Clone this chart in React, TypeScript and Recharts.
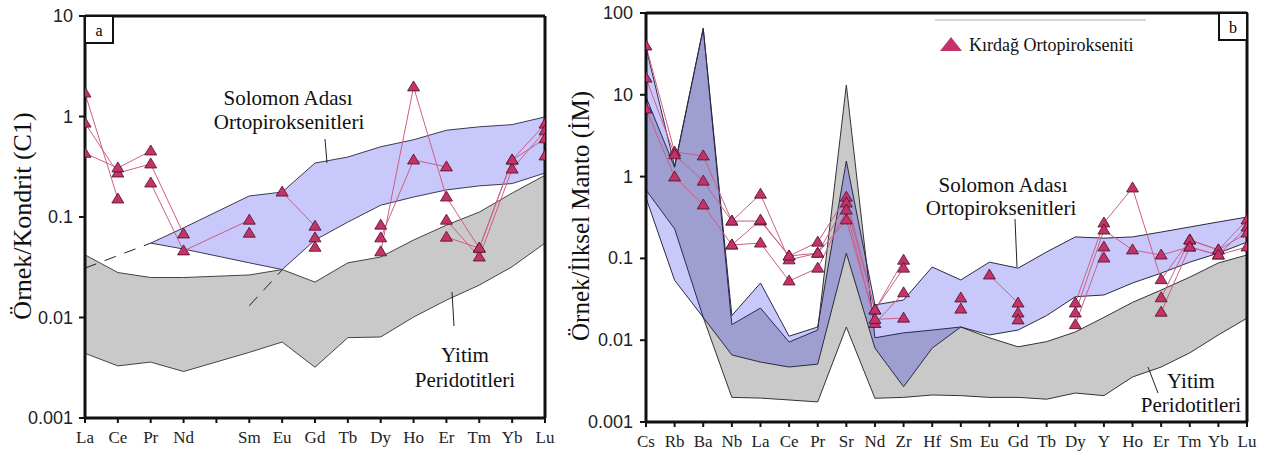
import React from 'react';
import { ComposedChart, Area, Line, XAxis, YAxis, ReferenceLine } from 'recharts';

// --- panel a: REE, kondrit (C1) normalised ---
const reeTicks = ['La', 'Ce', 'Pr', 'Nd', '', 'Sm', 'Eu', 'Gd', 'Tb', 'Dy', 'Ho', 'Er', 'Tm', 'Yb', 'Lu'];
const reeElements = ['La', 'Ce', 'Pr', 'Nd', 'Sm', 'Eu', 'Gd', 'Tb', 'Dy', 'Ho', 'Er', 'Tm', 'Yb', 'Lu'];

// Yitim peridotitleri envelope
const reeYitimLow = [0.0044, 0.0033, 0.0036, 0.0029, 0.0045, 0.0057, 0.0032, 0.0063, 0.0064, 0.0101, 0.0149, 0.021, 0.032, 0.055];
const reeYitimHigh = [0.042, 0.028, 0.025, 0.025, 0.0265, 0.03, 0.0225, 0.035, 0.04, 0.059, 0.083, 0.112, 0.173, 0.26];
// Solomon Adası ortopiroksenitleri envelope
const reeSolomonLow = [null, null, 0.055, 0.048, 0.035, 0.03, 0.059, 0.089, 0.131, 0.158, 0.186, 0.204, 0.215, 0.274];
const reeSolomonHigh = [null, null, 0.055, 0.078, 0.162, 0.177, 0.344, 0.395, 0.5, 0.587, 0.73, 0.79, 0.83, 0.99];
// dashed extensions
const reeDashLeft = [0.031, null, 0.055, null, null, null, null, null, null, null, null, null, null, null];
const reeDashMid = [null, null, null, null, 0.0131, 0.0297, null, null, null, null, null, null, null, null];

// Kırdağ samples
const reeS1 = [1.71, 0.151, null, null, 0.069, null, 0.062, null, 0.045, 1.97, 0.158, 0.049, 0.369, 0.84];
const reeS2 = [0.86, 0.274, 0.337, 0.0678, null, 0.177, 0.081, null, 0.062, 0.369, 0.315, null, null, 0.405];
const reeS3 = [0.43, 0.308, 0.454, null, null, null, 0.05, null, 0.083, null, 0.093, 0.04, 0.3, 0.72];
const reeS4 = [null, null, 0.218, 0.046, 0.093, null, null, null, null, null, 0.063, 0.049, 0.369, 0.6];

// --- panel b: ilksel manto normalised ---
const spiderElements = ['Cs', 'Rb', 'Ba', 'Nb', 'La', 'Ce', 'Pr', 'Sr', 'Nd', 'Zr', 'Hf', 'Sm', 'Eu', 'Gd', 'Tb', 'Dy', 'Y', 'Ho', 'Er', 'Tm', 'Yb', 'Lu'];

const spSolomonLow = [0.55, 0.054, 0.019, 0.0066, 0.0054, 0.0047, 0.0051, 0.116, 0.008, 0.0027, 0.008, 0.0145, 0.0116, 0.0133, 0.02, 0.034, 0.0357, 0.05, 0.066, 0.09, 0.116, 0.158];
const spSolomonHigh = [38, 1.35, 65, 0.02, 0.05, 0.0112, 0.0145, 1.55, 0.027, 0.031, 0.0785, 0.0545, 0.09, 0.076, 0.12, 0.183, 0.177, 0.183, 0.21, 0.242, 0.279, 0.32];
const spYitimLow = [0.685, 0.23, 0.019, 0.002, 0.00196, 0.00186, 0.00176, 0.0145, 0.00195, 0.002, 0.00214, 0.0021, 0.002, 0.002, 0.0019, 0.00226, 0.0021, 0.00355, 0.0047, 0.007, 0.0116, 0.0186];
const spYitimHigh = [9.4, 1.3, 65, 0.0155, 0.0247, 0.0095, 0.0133, 13.2, 0.0107, 0.0123, 0.0133, 0.0145, 0.0107, 0.0083, 0.0096, 0.0126, 0.019, 0.029, 0.041, 0.059, 0.088, 0.11];

const spS1 = [39.5, 2.0, 1.79, 0.286, 0.286, 0.107, 0.158, 0.56, 0.0234, 0.095, null, null, 0.0627, 0.0285, null, 0.0285, 0.271, 0.726, 0.055, 0.168, 0.127, 0.295];
const spS2 = [16, 1.85, 0.88, 0.286, 0.61, 0.096, 0.116, 0.475, 0.0234, 0.076, null, 0.0328, null, 0.0215, null, 0.0215, 0.222, 0.127, 0.11, 0.138, 0.11, 0.242];
const spS3 = [6.7, 0.99, 0.45, 0.146, 0.154, 0.053, 0.076, 0.39, 0.016, 0.038, null, 0.024, null, 0.0177, null, 0.0155, 0.138, null, 0.033, 0.168, 0.127, 0.204];
const spS4 = [null, null, null, 0.146, 0.294, 0.107, 0.116, 0.295, 0.018, 0.0186, null, null, null, null, null, null, 0.101, null, 0.022, 0.138, 0.11, 0.138];

const reeData = reeElements.map((el, i) => ({
    x: reeTicks.indexOf(el),
    yitim: [reeYitimLow[i], reeYitimHigh[i]],
    solomon: reeSolomonLow[i] == null ? null : [reeSolomonLow[i], reeSolomonHigh[i]],
    dashLeft: reeDashLeft[i],
    dashMid: reeDashMid[i],
    s1: reeS1[i], s2: reeS2[i], s3: reeS3[i], s4: reeS4[i],
}));

const spiderData = spiderElements.map((el, i) => ({
    x: i,
    yitim: [spYitimLow[i], spYitimHigh[i]],
    solomon: [spSolomonLow[i], spSolomonHigh[i]],
    s1: spS1[i], s2: spS2[i], s3: spS3[i], s4: spS4[i],
}));

const SERIF = '"Liberation Serif", "Times New Roman", serif';
const SANS = '"Liberation Sans", Arial, sans-serif';
const GRAY_FILL = '#c9c9c9';
const BLUE_FILL = '#0505e8'; // drawn with low opacity so the overlap darkens
const LINE_PINK = '#cc5f86';
const TRI_FILL = '#c4326a';

const Triangle = (props: any) => {
    const { cx, cy, value, index, dataKey } = props;
    const key = `${dataKey}-${index}`;
    if (cx == null || cy == null || value == null) return <g key={key} />;
    const pts = `${cx},${cy - 6} ${cx - 6},${cy + 4} ${cx + 6},${cy + 4}`;
    return <polygon key={key} points={pts} fill={TRI_FILL} stroke="#4a1028" strokeWidth={0.8} />;
};

// custom ticks so the font sizes stick
const YTick = ({ x, y, payload }: any) => (
    <text x={x} y={y} textAnchor="end" dominantBaseline="central" fontFamily={SANS} fontSize={18} fill="#222">
        {String(payload.value)}
    </text>
);

const makeXTick = (labels: string[]) => ({ x, y, payload }: any) => (
    <text x={x} y={y + 10} textAnchor="middle" dominantBaseline="central" fontFamily={SERIF} fontSize={17} fill="#222">
        {labels[payload.value]}
    </text>
);

const sampleKeys = ['s1', 's2', 's3', 's4'];

const Overlay = () => (
    <svg width={1262} height={456} style={{ position: 'absolute', left: 0, top: 0, pointerEvents: 'none' }}>
        {/* axis titles */}
        <text x={22} y={216} transform="rotate(-90 22 216)" textAnchor="middle" dominantBaseline="central"
            fontFamily={SERIF} fontSize={26} fill="#111">Örnek/Kondrit (C1)</text>
        <text x={580} y={216} transform="rotate(-90 580 216)" textAnchor="middle" dominantBaseline="central"
            fontFamily={SERIF} fontSize={25} fill="#111">Örnek/İlksel Manto (İM)</text>

        {/* panel letters */}
        <rect x={85} y={16} width={28} height={27} fill="#fff" stroke="#111" strokeWidth={2} />
        <text x={99} y={30} textAnchor="middle" dominantBaseline="central" fontFamily={SERIF} fontSize={16}>a</text>
        <rect x={1219} y={13} width={28} height={27} fill="#fff" stroke="#111" strokeWidth={2} />
        <text x={1233} y={27} textAnchor="middle" dominantBaseline="central" fontFamily={SERIF} fontSize={16}>b</text>

        {/* envelope names */}
        <g fontFamily={SERIF} fontSize={21} fill="#111" textAnchor="middle">
            <text x={288} y={105}>Solomon Adası</text>
            <text x={289} y={129}>Ortopiroksenitleri</text>
            <text x={465} y={362}>Yitim</text>
            <text x={465} y={387}>Peridotitleri</text>
            <text x={1003} y={192}>Solomon Adası</text>
            <text x={1001} y={215}>Ortopiroksenitleri</text>
            <text x={1191} y={388}>Yitim</text>
            <text x={1191} y={412}>Peridotitleri</text>
        </g>
        <g stroke="#222" strokeWidth={1}>
            <line x1={325} y1={139} x2={327} y2={163} />
            <line x1={452} y1={292} x2={454} y2={326} />
            <line x1={1015} y1={219} x2={1017} y2={267} />
            <line x1={1148} y1={367} x2={1158} y2={393} />
        </g>

        {/* legend */}
        <line x1={935} y1={20} x2={1146} y2={20} stroke="#c8c8c8" strokeWidth={1.5} />
        <polygon points="951,37 940,51 962,51" fill={TRI_FILL} />
        <text x={969} y={51} fontFamily={SERIF} fontSize={18} fill="#111">Kırdağ Ortopirokseniti</text>
    </svg>
);

export default function App() {
    return (
        <div style={{ position: 'absolute', left: 0, top: 0, width: 1262, height: 456, background: '#fff' }}>
            {/* a: REE */}
            <div style={{ position: 'absolute', left: 0, top: 0 }}>
                <ComposedChart width={560} height={456} data={reeData} margin={{ top: 16, right: 15, bottom: 8, left: 25 }}>
                    <XAxis type="number" dataKey="x" domain={[0, 14]} ticks={reeTicks.map((_, i) => i)}
                        interval={0} height={30} allowDataOverflow
                        axisLine={{ stroke: '#111', strokeWidth: 3 }} tickLine={{ stroke: '#111', strokeWidth: 2 }}
                        tickSize={5} tickMargin={4} tick={makeXTick(reeTicks)} />
                    <YAxis scale="log" domain={[0.001, 10]} ticks={[0.001, 0.01, 0.1, 1, 10]} width={60} allowDataOverflow
                        axisLine={{ stroke: '#111', strokeWidth: 3 }} tickLine={{ stroke: '#111', strokeWidth: 2 }}
                        tickSize={6} tickMargin={6} tick={<YTick />} />
                    <Area dataKey="yitim" stroke="#444" strokeWidth={1} fill={GRAY_FILL} fillOpacity={1} isAnimationActive={false} />
                    <Area dataKey="solomon" stroke="#3a3a55" strokeWidth={1} fill={BLUE_FILL} fillOpacity={0.22} isAnimationActive={false} />
                    <Line dataKey="dashLeft" stroke="#222" strokeWidth={1} strokeDasharray="12 9" dot={false} connectNulls isAnimationActive={false} />
                    <Line dataKey="dashMid" stroke="#222" strokeWidth={1} strokeDasharray="12 9" dot={false} connectNulls isAnimationActive={false} />
                    {sampleKeys.map(k => (
                        <Line key={k} dataKey={k} stroke={LINE_PINK} strokeWidth={1} dot={Triangle} activeDot={false} isAnimationActive={false} />
                    ))}
                    <ReferenceLine y={10} stroke="#111" strokeWidth={3} />
                    <ReferenceLine x={14} stroke="#111" strokeWidth={3} />
                </ComposedChart>
            </div>

            {/* b: spider */}
            <div style={{ position: 'absolute', left: 560, top: 0 }}>
                <ComposedChart width={702} height={456} data={spiderData} margin={{ top: 13, right: 15, bottom: 4, left: 26 }}>
                    <XAxis type="number" dataKey="x" domain={[0, 21]} ticks={spiderElements.map((_, i) => i)}
                        interval={0} height={30} allowDataOverflow
                        axisLine={{ stroke: '#111', strokeWidth: 3 }} tickLine={{ stroke: '#111', strokeWidth: 2 }}
                        tickSize={5} tickMargin={4} tick={makeXTick(spiderElements)} />
                    <YAxis scale="log" domain={[0.001, 100]} ticks={[0.001, 0.01, 0.1, 1, 10, 100]} width={60} allowDataOverflow
                        axisLine={{ stroke: '#111', strokeWidth: 3 }} tickLine={{ stroke: '#111', strokeWidth: 2 }}
                        tickSize={6} tickMargin={7} tick={<YTick />} />
                    <Area dataKey="yitim" stroke="#333" strokeWidth={1} fill={GRAY_FILL} fillOpacity={1} isAnimationActive={false} />
                    <Area dataKey="solomon" stroke="#2a2a40" strokeWidth={1} fill={BLUE_FILL} fillOpacity={0.22} isAnimationActive={false} />
                    {sampleKeys.map(k => (
                        <Line key={k} dataKey={k} stroke={LINE_PINK} strokeWidth={1} dot={Triangle} activeDot={false} isAnimationActive={false} />
                    ))}
                    <ReferenceLine y={100} stroke="#111" strokeWidth={3} />
                    <ReferenceLine x={21} stroke="#111" strokeWidth={3} />
                </ComposedChart>
            </div>

            <Overlay />
        </div>
    );
}
